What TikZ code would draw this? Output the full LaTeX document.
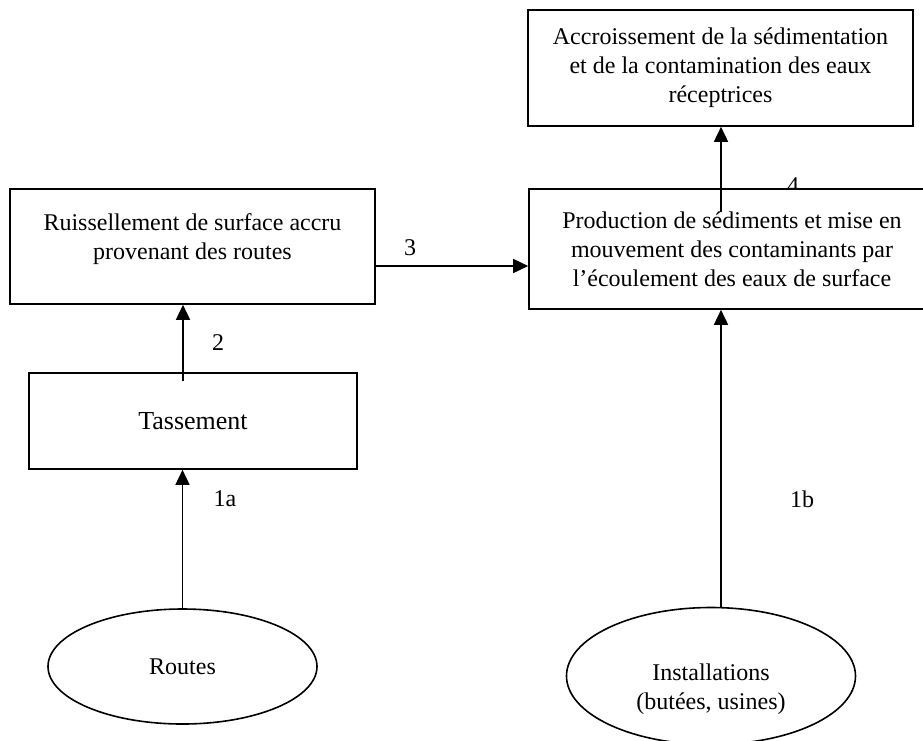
\documentclass[tikz,border=0pt]{standalone}
\usepackage{fontspec}
\setmainfont{Liberation Serif}
\usetikzlibrary{shapes.geometric, arrows.meta, positioning, calc}

\begin{document}
\begin{tikzpicture}[x=1pt, y=-1pt,
    font=\fontsize{24}{29}\selectfont,
    box/.style={rectangle, draw, line width=1.6pt, fill=white, align=center, inner sep=0pt},
    blob/.style={ellipse, draw, line width=1.6pt, fill=white, align=center, inner sep=0pt},
    flow/.style={line width=1.6pt, -{Triangle[length=15pt, width=14pt]}},
    num/.style={inner sep=0pt}]
\useasboundingbox (0,0) rectangle (923,740);
% Label partly hidden by the box
\node[num] (n4) at (793,186) {4};
% Boxes
\node[box, minimum width=385pt, minimum height=116pt] (accr) at (720.5,68)
    {Accroissement de la sédimentation\\et de la contamination des eaux\\réceptrices\\[-23pt]};
\node[box, minimum width=406pt, minimum height=120pt] (prod) at (732,249)
    {Production de sédiments et mise en\\mouvement des contaminants par\\l’écoulement des eaux de surface};
\node[box, minimum width=365pt, minimum height=115pt] (ruiss) at (192.5,246.5)
    {Ruissellement de surface accru\\provenant des routes\\[-10pt]};
\node[box, minimum width=328pt, minimum height=96pt, font=\fontsize{26}{31}\selectfont] (tass) at (193,421)
    {Tassement};
% Sources
\node[blob, minimum width=269pt, minimum height=115pt] (routes) at (182.5,666.5) {Routes};
\node[blob, minimum width=289pt, minimum height=137pt] (inst) at (711,676)
    {\mbox{}\\[14pt]Installations\\(butées, usines)};
% Connections
\coordinate (c2) at (183,381);
\coordinate (c4) at (721,212);
\draw[flow] (routes.north) -- (routes.north |- tass.south);
\draw[flow] (c2) -- (c2 |- ruiss.south);
\draw[flow] ([yshift=-19.5pt]ruiss.east) -- ([yshift=-19.5pt]ruiss.east -| prod.west);
\draw[flow] (c4) -- (c4 |- accr.south);
\draw[flow] ([xshift=10pt]inst.north) -- ([xshift=10pt]inst.north |- prod.south);
% Numbers
\node[num] (n1a) at (225,499) {1a};
\node[num] (n1b) at (802,499) {1b};
\node[num] (n2) at (218,343) {2};
\node[num] (n3) at (410,248) {3};
\end{tikzpicture}
\end{document}
